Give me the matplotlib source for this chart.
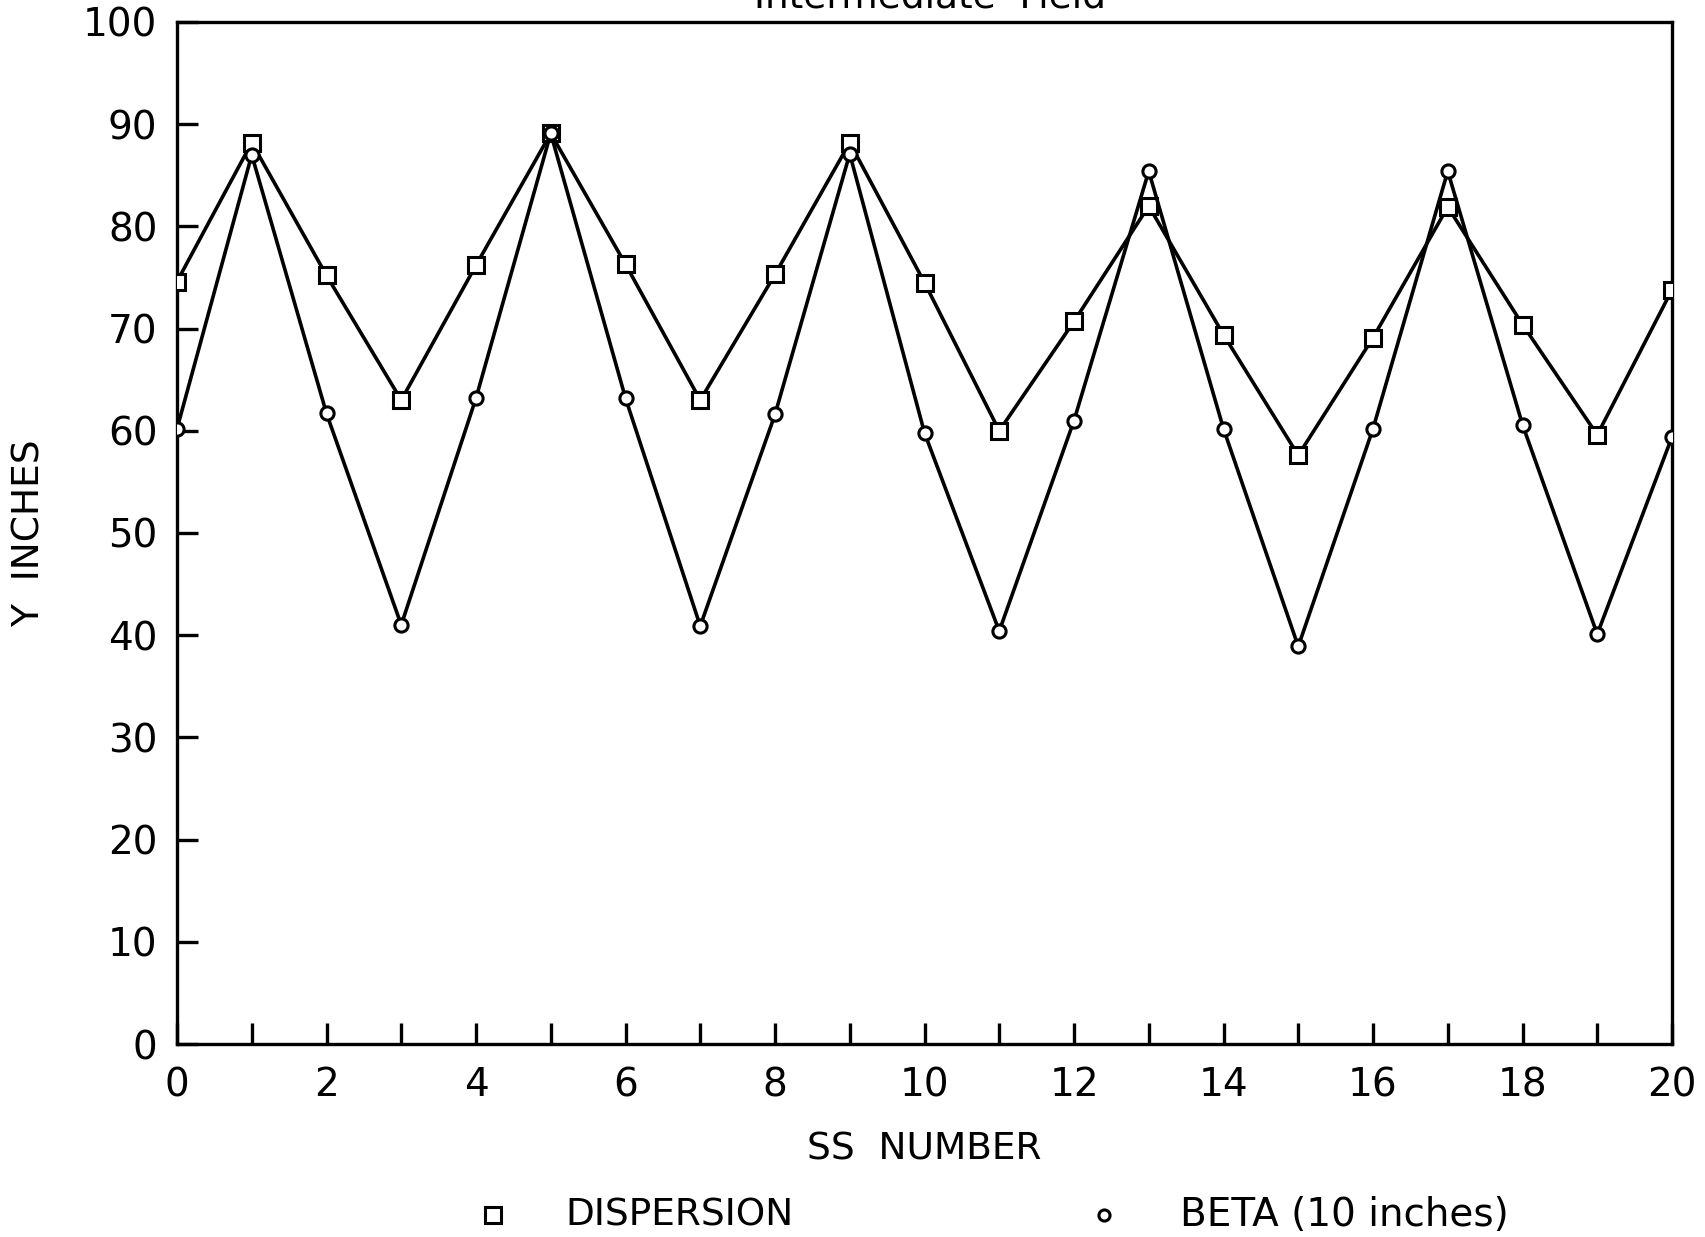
import matplotlib
matplotlib.use("Agg")
import matplotlib.pyplot as plt
from matplotlib.lines import Line2D

# SS number vs Y (inches)
ss = list(range(21))
dispersion = [74.6, 88.2, 75.2, 63.0, 76.2, 89.1, 76.3, 63.0, 75.3, 88.2, 74.5,
              60.0, 70.7, 82.0, 69.4, 57.6, 69.1, 81.9, 70.4, 59.6, 73.8]
beta = [60.2, 87.0, 61.7, 41.0, 63.2, 89.1, 63.2, 40.9, 61.6, 87.1, 59.8,
        40.4, 61.0, 85.4, 60.2, 38.9, 60.2, 85.4, 60.6, 40.1, 59.4]
xticks = list(range(0, 21, 2))
yticks = list(range(0, 101, 10))

plt.rcParams["font.family"] = ["DejaVu Sans"]

fig = plt.figure(figsize=(17.05, 12.37), dpi=100)
ax = fig.add_axes([177 / 1705, 1 - 1044 / 1237, (1672 - 177) / 1705, (1044 - 22) / 1237])

ax.plot(ss, dispersion, color="black", lw=2.6, marker="s", ms=12,
        mfc="white", mec="black", mew=2.2, zorder=3)
ax.plot(ss, beta, color="black", lw=2.6, marker="o", ms=9.5,
        mfc="white", mec="black", mew=2.2, zorder=3)

ax.set_xlim(0, 20)
ax.set_ylim(0, 100)
ax.set_xticks(xticks)
ax.set_xticks([v for v in ss if v % 2], minor=True)
ax.set_yticks(yticks)
ax.set_yticklabels([str(v) for v in yticks])
ax.tick_params(axis="both", which="both", direction="in", length=15, width=2.4,
               labelsize=28)
ax.tick_params(axis="x", which="both", pad=16)
ax.tick_params(axis="y", pad=14)
for s in ax.spines.values():
    s.set_linewidth(2.4)

ax.set_xlabel("SS  NUMBER", fontsize=27, labelpad=20)
ax.set_ylabel("Y  INCHES", fontsize=27, labelpad=26)

fig.text(930 / 1705, 1 - 7 / 1237, "Intermediate  Field", fontsize=27,
         ha="center", va="baseline")

# legend drawn below the axis
ly = 1 - 1215 / 1237
fig.add_artist(Line2D([493 / 1705], [ly], transform=fig.transFigure, marker="s",
                      ms=11, mfc="white", mec="black", mew=2.2, ls="none"))
fig.text(565 / 1705, ly, "DISPERSION", fontsize=27, va="center")
fig.add_artist(Line2D([1104 / 1705], [ly], transform=fig.transFigure, marker="o",
                      ms=8, mfc="white", mec="black", mew=2.2, ls="none"))
fig.text(1180 / 1705, ly, "BETA (10 inches)", fontsize=28, va="center")

fig.savefig("out.png", dpi=100)
